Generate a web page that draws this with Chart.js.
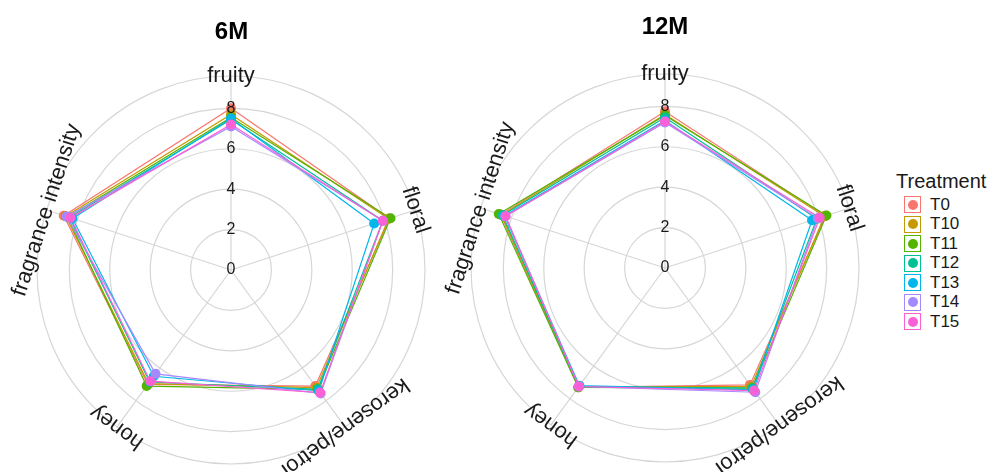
<!DOCTYPE html>
<html>
<head>
<meta charset="utf-8">
<script src="https://cdn.jsdelivr.net/npm/chart.js@4/dist/chart.umd.min.js"></script>
<style>
    body { margin: 0; background: #fff; font-family: "Liberation Sans", Arial, sans-serif; }
    .panel { position: absolute; top: 0; height: 472px; }
    #legend { position: absolute; left: 896px; top: 170px; color: #1a1a1a; }
    #legend .title { font-size: 20px; line-height: 22px; margin-bottom: 3px; }
    #legend .item { display: flex; align-items: center; height: 19.5px; margin-left: 8px; }
    #legend .key { width: 15px; height: 15px; border: 1.5px solid; background: #fff; position: relative; margin-right: 9px; }
    #legend .dot { position: absolute; left: 2.5px; top: 2.5px; width: 10px; height: 10px; border-radius: 50%; }
    #legend .name { font-size: 17px; }
</style>
</head>
<body>
<div class="panel" style="left:0; width:463px;"><canvas id="chart6"></canvas></div>
<div class="panel" style="left:440px; width:450px;"><canvas id="chart12"></canvas></div>
<div id="legend"></div>

<script>
const axes = ['fruity', 'floral', 'kerosene/petrol', 'honey', 'fragrance intensity'];
const treatments = ['T0', 'T10', 'T11', 'T12', 'T13', 'T14', 'T15'];
const colors = ['#F8766D', '#C49A00', '#53B400', '#00C094', '#00B6EB', '#A58AFF', '#FB61D7'];
const tickValues = [0, 2, 4, 6, 8];
const scaleMax = 9.6;

// one row per treatment, in the order of axes
const values6M = [
    [8.0, 8.25, 7.1, 7.0, 8.7],
    [7.7, 8.2, 7.2, 6.95, 8.6],
    [7.55, 8.3, 7.3, 7.1, 8.5],
    [7.45, 7.9, 7.3, 6.85, 8.4],
    [7.5, 7.45, 7.4, 6.5, 8.25],
    [7.1, 7.9, 7.55, 6.35, 8.55],
    [7.2, 7.9, 7.5, 6.8, 8.35]
];
const values12M = [
    [7.75, 8.35, 7.15, 7.3, 8.55],
    [7.6, 8.3, 7.25, 7.25, 8.5],
    [7.55, 8.4, 7.35, 7.3, 8.65],
    [7.45, 7.9, 7.35, 7.25, 8.45],
    [7.3, 7.65, 7.45, 7.2, 8.35],
    [7.2, 7.95, 7.6, 7.25, 8.3],
    [7.25, 8.05, 7.5, 7.25, 8.3]
];

const fontFamily = '"Liberation Sans", Arial, sans-serif';
Chart.defaults.font.family = fontFamily;

// tick numbers drawn over the data, and axis names turned along the outer ring
const radarText = {
    id: 'radarText',
    afterDraw(chart) {
        const scale = chart.scales.r;
        const ctx = chart.ctx;
        ctx.save();
        ctx.fillStyle = '#1a1a1a';
        ctx.textAlign = 'center';
        ctx.textBaseline = 'middle';
        ctx.font = '16px ' + fontFamily;
        tickValues.forEach(v => {
            const d = scale.getDistanceFromCenterForValue(v);
            ctx.fillText(String(v), scale.xCenter, scale.yCenter - d);
        });

        ctx.font = '22px ' + fontFamily;
        axes.forEach((name, i) => {
            const p = scale.getPointPosition(i, scale.drawingArea);
            ctx.save();
            ctx.translate(p.x, p.y);
            ctx.rotate(p.angle + Math.PI / 2);
            ctx.fillText(name, 0, 0);
            ctx.restore();
        });
        ctx.restore();
    }
};

function makeChart(id, title, rows, pad) {
    // lines first, then all the points above them
    let lineSets = rows.map((row, i) => ({
        label: treatments[i],
        data: row,
        borderColor: colors[i],
        borderWidth: 1.2,
        backgroundColor: 'transparent',
        fill: false,
        pointRadius: 0,
        order: 40 - i
    }));
    let pointSets = rows.map((row, i) => ({
        label: treatments[i],
        data: row,
        showLine: false,
        fill: false,
        borderWidth: 0,
        borderColor: 'transparent',
        backgroundColor: colors[i],
        pointRadius: 5,
        pointBorderWidth: 0,
        pointBackgroundColor: colors[i],
        order: 20 - i
    }));

    return new Chart(document.getElementById(id), {
        type: 'radar',
        data: { labels: axes, datasets: lineSets.concat(pointSets) },
        options: {
            responsive: true,
            maintainAspectRatio: false,
            animation: false,
            layout: { padding: { left: pad.side, right: pad.side, top: 0, bottom: pad.bottom } },
            plugins: {
                legend: { display: false },
                tooltip: { enabled: false },
                title: {
                    display: true,
                    text: title,
                    color: '#000',
                    font: { size: 24, weight: 'bold' },
                    padding: { top: pad.titleTop, bottom: pad.titleBottom }
                }
            },
            scales: {
                r: {
                    min: 0,
                    max: scaleMax,
                    afterBuildTicks: s => { s.ticks = tickValues.concat(scaleMax).map(v => ({ value: v })); },
                    grid: { circular: true, color: '#d6d6d6', lineWidth: 1.2 },
                    angleLines: { color: '#d6d6d6', lineWidth: 1.2 },
                    pointLabels: { display: false },
                    // scale labels are kept for spacing only, the plugin paints them on top
                    ticks: {
                        showLabelBackdrop: false,
                        backdropPadding: 0,
                        color: 'transparent',
                        font: { size: 16 },
                        callback: v => tickValues.includes(v) ? String(v) : ''
                    }
                }
            }
        },
        plugins: [radarText]
    });
}

// the radial scale keeps half a tick-font height free on every side
makeChart('chart6', '6M', values6M, { side: 29.5, bottom: 0, titleTop: 17.6, titleBottom: 21.6 });
makeChart('chart12', '12M', values12M, { side: 23, bottom: 2, titleTop: 12.6, titleBottom: 24.6 });

// legend
let legend = document.getElementById('legend');
let html = '<div class="title">Treatment</div>';
treatments.forEach((t, i) => {
    html += '<div class="item"><div class="key" style="border-color:' + colors[i] + '">' +
        '<div class="dot" style="background:' + colors[i] + '"></div></div>' +
        '<span class="name">' + t + '</span></div>';
});
legend.innerHTML = html;
</script>
</body>
</html>
